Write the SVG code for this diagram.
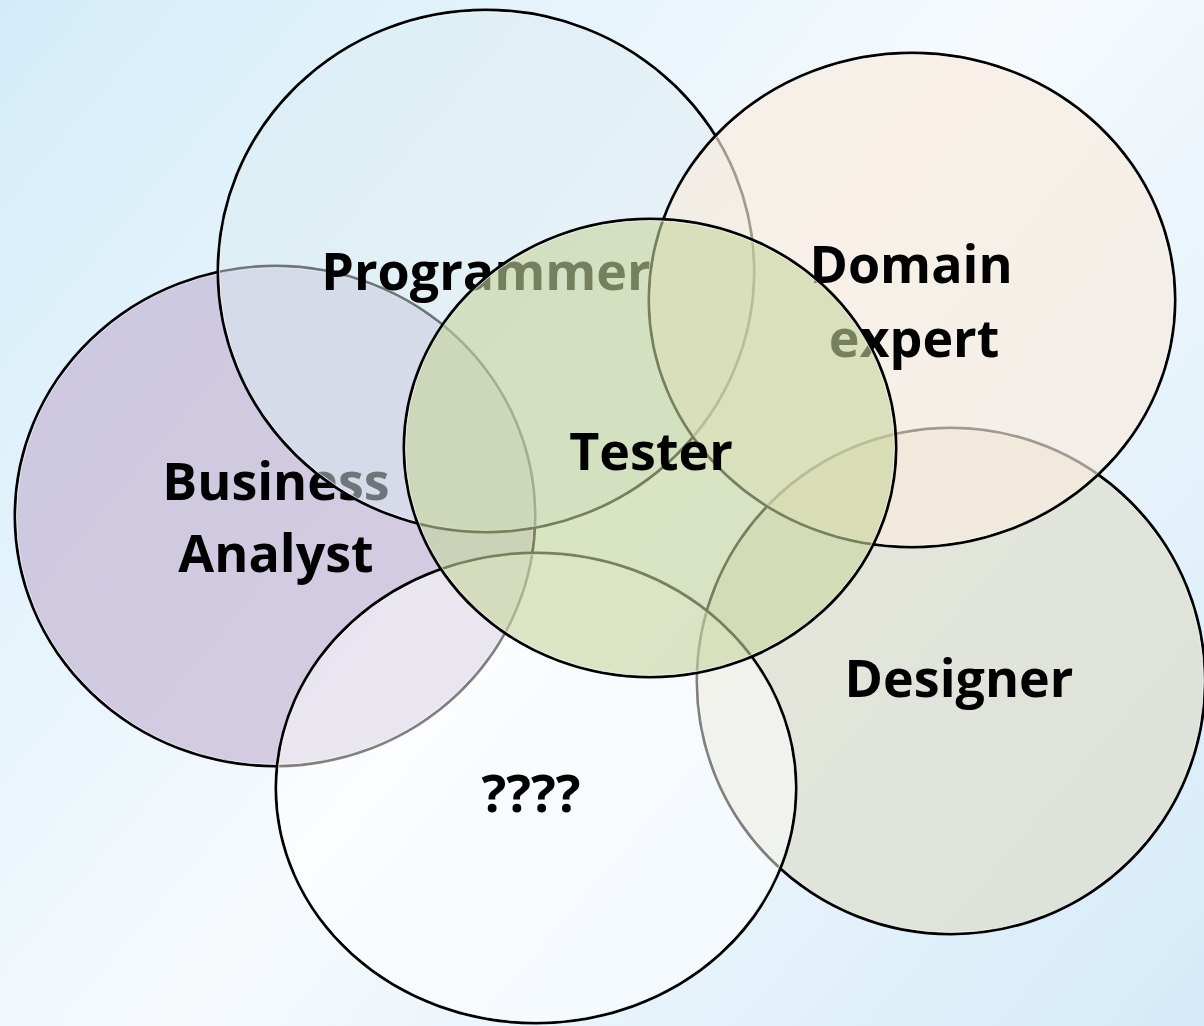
<svg xmlns="http://www.w3.org/2000/svg" width="1204" height="1026" viewBox="0 0 1204 1026">
<defs>
<linearGradient id="bg" x1="0" y1="0" x2="1204" y2="1026" gradientUnits="userSpaceOnUse">
<stop offset="0" stop-color="#d2ecf9"/>
<stop offset="0.5" stop-color="#f6fafd"/>
<stop offset="1" stop-color="#d4eaf8"/>
</linearGradient>
</defs>
<style>
.ol{stroke:#000;stroke-width:3}
.hl{fill:none;stroke:#fff;stroke-width:1;stroke-opacity:0.75}
.lbl{font-family:"Open Sans","Noto Sans","Liberation Sans",sans-serif;font-weight:bold;font-size:52px;fill:#000;text-anchor:middle}
</style>
<rect x="0" y="0" width="1204" height="1026" fill="url(#bg)"/>
<g id="connectors"/>
<g id="business-analyst">
<ellipse class="ol" cx="275" cy="516" rx="260" ry="250" fill="#bfadcf" fill-opacity="0.6"/>
<ellipse class="hl" cx="275" cy="516" rx="258.5" ry="248.5"/>
<text class="lbl" x="276" y="500">Business</text>
<text class="lbl" x="276" y="572">Analyst</text>
</g>
<g id="programmer">
<ellipse class="ol" cx="486" cy="271" rx="268" ry="261" fill="#dcebf1" fill-opacity="0.5"/>
<ellipse class="hl" cx="486" cy="271" rx="266.5" ry="259.5"/>
<text class="lbl" x="486" y="290">Programmer</text>
</g>
<g id="designer">
<ellipse class="ol" cx="951" cy="681" rx="254" ry="253" fill="#dddac5" fill-opacity="0.6"/>
<ellipse class="hl" cx="951" cy="681" rx="252.5" ry="251.5"/>
<text class="lbl" x="959" y="697">Designer</text>
</g>
<g id="unknown">
<ellipse class="ol" cx="536" cy="788" rx="260" ry="235" fill="#ffffff" fill-opacity="0.5"/>
<ellipse class="hl" cx="536" cy="788" rx="258.5" ry="233.5"/>
<text class="lbl" x="531" y="812">????</text>
</g>
<g id="domain-expert">
<ellipse class="ol" cx="912" cy="300" rx="263" ry="247" fill="#f9ebdd" fill-opacity="0.65"/>
<ellipse class="hl" cx="912" cy="300" rx="261.5" ry="245.5"/>
<text class="lbl" x="911" y="283">Domain</text>
<text class="lbl" x="914" y="357">expert</text>
</g>
<g id="tester">
<ellipse class="ol" cx="650" cy="448" rx="246" ry="229" fill="#c7d69d" fill-opacity="0.6"/>
<ellipse class="hl" cx="650" cy="448" rx="244.5" ry="227.5"/>
<text class="lbl" x="651" y="470">Tester</text>
</g>
</svg>
